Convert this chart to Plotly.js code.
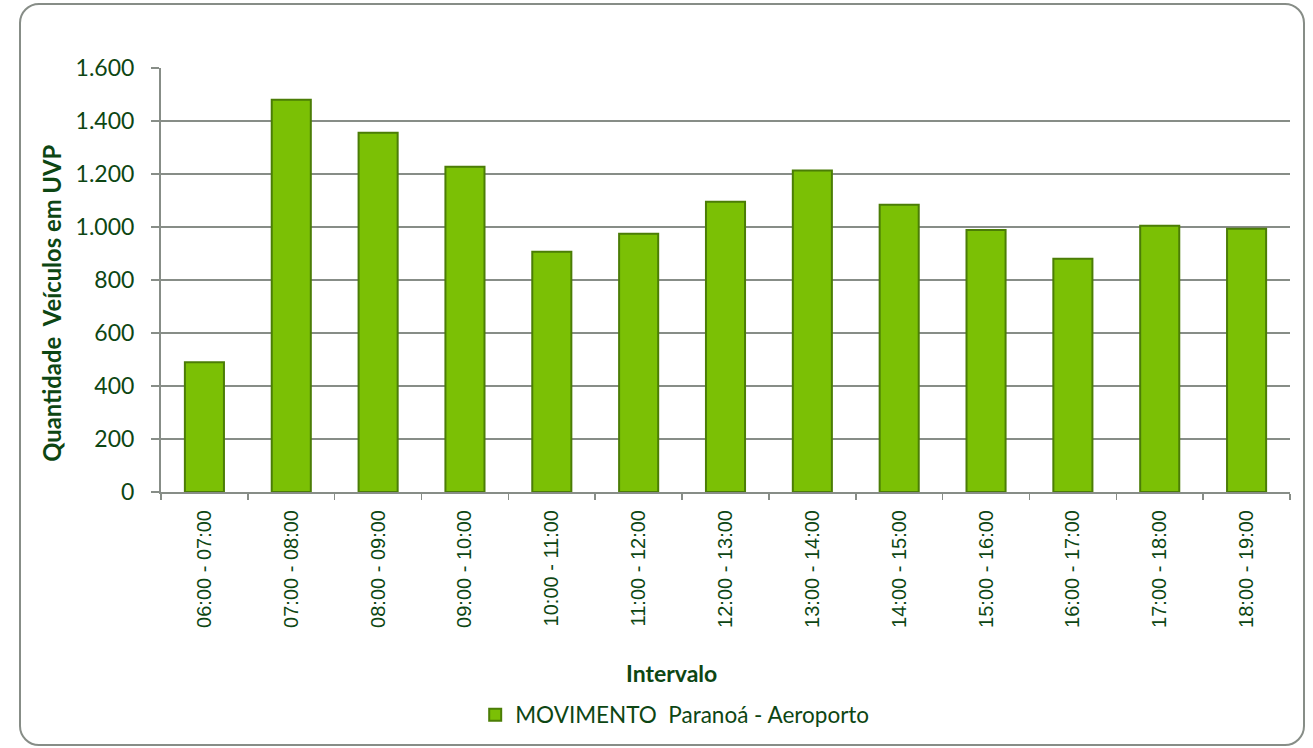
<!DOCTYPE html>
<html>
<head>
<meta charset="utf-8">
<script src="https://cdn.plot.ly/plotly-3.0.1.min.js"></script>
<style>
  html, body { margin: 0; padding: 0; background: #ffffff; }
  #chart { width: 1313px; height: 748px; position: absolute; left: 0; top: 0; }
  #frame { position: absolute; left: 19px; top: 3px; width: 1282px; height: 739px;
           border: 2px solid #878d87; border-radius: 20px; pointer-events: none; }
</style>
</head>
<body>
<div id="chart"></div>
<div id="frame"></div>
<script>
const categories = ["06:00 - 07:00", "07:00 - 08:00", "08:00 - 09:00", "09:00 - 10:00",
  "10:00 - 11:00", "11:00 - 12:00", "12:00 - 13:00", "13:00 - 14:00", "14:00 - 15:00",
  "15:00 - 16:00", "16:00 - 17:00", "17:00 - 18:00", "18:00 - 19:00"];
const values = [490, 1480, 1356, 1227, 907, 975, 1095, 1213, 1084, 989, 880, 1005, 993];
const seriesName = "MOVIMENTO  Paranoá - Aeroporto";
const yTickValues = [0, 200, 400, 600, 800, 1000, 1200, 1400, 1600];
const yTitle = "Quantidade  Veículos em UVP";
const xTitle = "Intervalo";

const textColor = "#0d4613";
const gridColor = "#878d87";

const trace = {
  type: "bar",
  x: categories,
  y: values,
  name: seriesName,
  marker: { color: "#7bc005", line: { color: "#4b7d06", width: 2 } },
  hoverinfo: "x+y"
};

const layout = {
  width: 1313, height: 748,
  margin: { l: 161, r: 23, t: 68, b: 254 },
  paper_bgcolor: "rgba(0,0,0,0)",
  plot_bgcolor: "#ffffff",
  separators: ",.",
  bargap: 0.55,
  showlegend: true,
  legend: {
    orientation: "h", x: 0.455, xanchor: "center", y: -0.526, yanchor: "middle",
    font: { family: "Lato, 'Open Sans', sans-serif", size: 22.5, color: textColor },
    itemwidth: 30
  },
  xaxis: {
    type: "category",
    tickangle: -90,
    tickson: "boundaries",
    ticks: "outside", ticklen: 6, tickcolor: gridColor, tickwidth: 1.5,
    showline: true, linecolor: gridColor, linewidth: 2,
    showgrid: false,
    ticklabelstandoff: 8,
    tickfont: { family: "'Liberation Sans', Arial, sans-serif", size: 20, color: textColor },
    automargin: false
  },
  yaxis: {
    range: [0, 1600],
    tickvals: yTickValues,
    tickformat: ",.0f",
    ticks: "outside", ticklen: 8, tickcolor: gridColor, tickwidth: 2,
    showline: true, linecolor: gridColor, linewidth: 2,
    showgrid: true, gridcolor: gridColor, gridwidth: 2,
    zeroline: false,
    ticklabelstandoff: 12,
    tickfont: { family: "Lato, 'Open Sans', sans-serif", size: 23, color: textColor },
    automargin: false
  },
  annotations: [{
    text: "<b>" + xTitle + "</b>",
    xref: "paper", yref: "paper",
    x: 0.4526, y: -0.427, xanchor: "center", yanchor: "middle",
    showarrow: false,
    font: { family: "Lato, 'Open Sans', sans-serif", size: 23, color: textColor }
  }, {
    text: "<b>" + yTitle + "</b>",
    xref: "paper", yref: "paper",
    x: -0.0965, y: 0.444, xanchor: "center", yanchor: "middle",
    textangle: -90,
    showarrow: false,
    font: { family: "Lato, 'Open Sans', sans-serif", size: 23.8, color: textColor }
  }]
};

Plotly.newPlot("chart", [trace], layout, { displayModeBar: false, staticPlot: true });
</script>
</body>
</html>
